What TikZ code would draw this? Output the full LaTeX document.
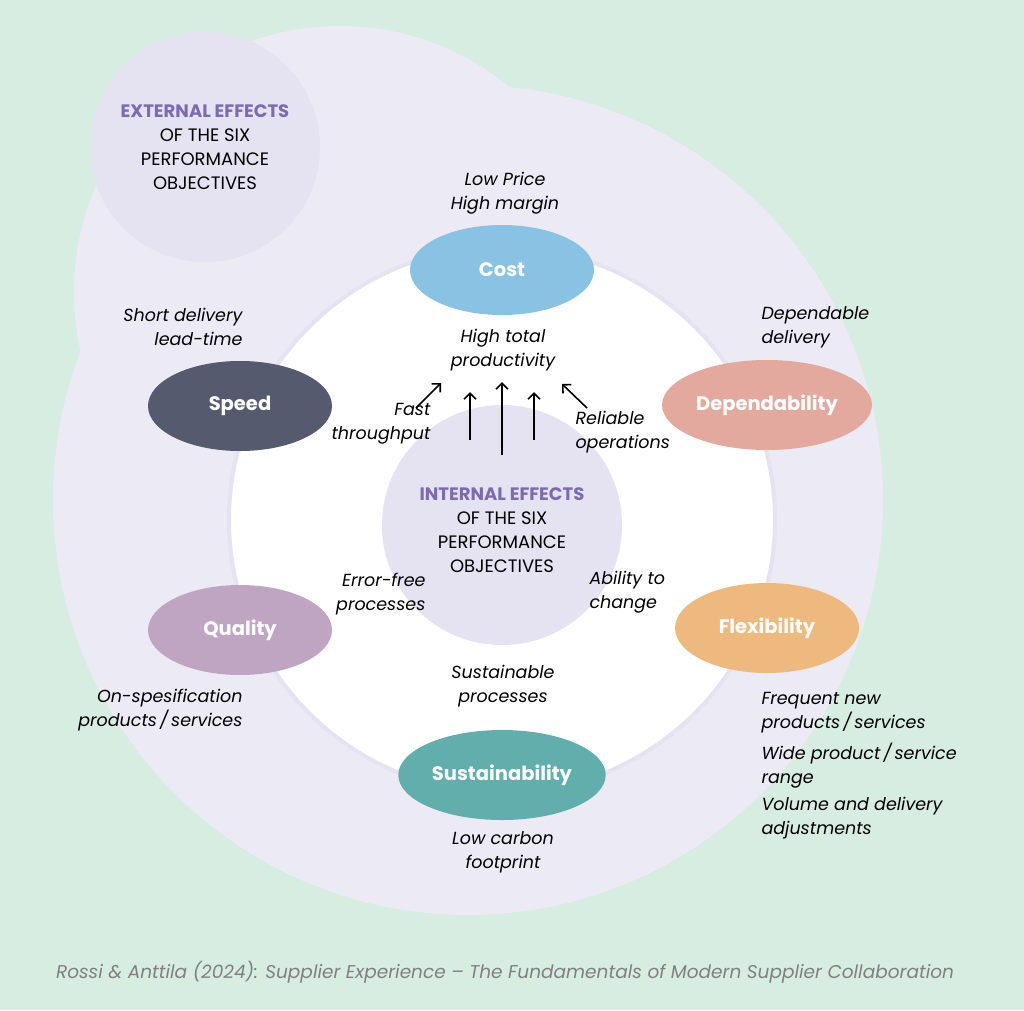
\documentclass[tikz,border=0pt]{standalone}
\usepackage{fontspec}
\setmainfont{Poppins}
\usetikzlibrary{shapes.geometric,arrows.meta}
\begin{document}
\begin{tikzpicture}[x=1pt,y=-1pt,
 obj/.style={ellipse,minimum width=184pt,minimum height=90pt,text=white,font=\fontsize{19.5}{22}\selectfont\bfseries},
 lab/.style={font=\fontsize{17.5}{24}\selectfont\itshape,text=black,align=center},
 arr/.style={-{Straight Barb[length=6pt,width=12pt]},line width=1.6pt},
 ctitle/.style={font=\fontsize{18}{24}\selectfont,align=center}]
\definecolor{bg}{HTML}{D7EDE1}
\definecolor{big}{HTML}{ECEAF4}
\definecolor{mid}{HTML}{E5E2F1}
\definecolor{purp}{HTML}{7C6BB0}
\fill[bg] (0,0) rectangle (1024,1010);
\useasboundingbox (0,0) rectangle (1024,1010);
\fill[big] (468,500) circle (415);
\fill[big] (340,292) circle (266);
\fill[white,draw=mid,line width=4pt] (502,520) circle (273);
\fill[mid] (205,147) circle (115);
\fill[mid] (502,525) circle (120);
\node[ctitle] (ext) at (205,147) {\textcolor{purp}{\bfseries EXTERNAL EFFECTS}\\OF THE SIX\\PERFORMANCE\\OBJECTIVES};
\node[ctitle] (int) at (502,530) {\textcolor{purp}{\bfseries INTERNAL EFFECTS}\\OF THE SIX\\PERFORMANCE\\OBJECTIVES};
\node[obj,fill={rgb,255:red,137;green,194;blue,227}] (cost) at (502,270) {Cost};
\node[obj,fill={rgb,255:red,86;green,90;blue,110}] (speed) at (240,406) {Speed};
\node[obj,fill={rgb,255:red,227;green,168;blue,158}] (dep) at (767,405) {Dependability};
\node[obj,fill={rgb,255:red,191;green,165;blue,194}] (qual) at (240,630) {Quality};
\node[obj,fill={rgb,255:red,238;green,185;blue,127}] (flex) at (767,628) {Flexibility};
\node[obj,fill={rgb,255:red,98;green,174;blue,173}] (sus) at (502,775) {Sustainability};
\node[lab] (l1) at (505,193) {Low Price\\High margin};
\node[lab,align=right,anchor=east] (l2) at (246,327) {Short delivery\\lead-time};
\node[lab,align=left,anchor=west] (l3) at (758,327) {Dependable\\delivery};
\node[lab] (l4) at (503,350) {High total\\productivity};
\node[lab,align=right,anchor=east] (l5) at (434,424) {Fast\\throughput};
\node[lab,align=left,anchor=west] (l6) at (572,432) {Reliable\\operations};
\node[lab,align=right,anchor=east] (l7) at (429,594) {Error-free\\processes};
\node[lab,align=left,anchor=west] (l8) at (586,592) {Ability to\\change};
\node[lab] (l9) at (503,686) {Sustainable\\processes};
\node[lab,align=right,anchor=east] (l10) at (246,710) {On-spesification\\products\,/\,services};
\node[lab,align=left,anchor=west] (l11) at (758,713) {Frequent new\\products\,/\,services};
\node[lab,align=left,anchor=west] (l12) at (758,766) {Wide product\,/\,service\\range};
\node[lab,align=left,anchor=west] (l13) at (758,818) {Volume and delivery\\adjustments};
\node[lab] (l14) at (503,852) {Low carbon\\footprint};
\node[font=\fontsize{18.5}{22}\selectfont\itshape,text=gray] (src) at (505,972) {Rossi \& Anttila (2024): Supplier Experience -- The Fundamentals of Modern Supplier Collaboration};
\coordinate (a1s) at (502,455); \coordinate (a1e) at (502,382);
\coordinate (a2s) at (470,440); \coordinate (a2e) at (470,392);
\coordinate (a3s) at (534,440); \coordinate (a3e) at (534,392);
\coordinate (a4s) at (416,408); \coordinate (a4e) at (441,383);
\coordinate (a5s) at (587,408); \coordinate (a5e) at (562,384);
\foreach \i in {1,...,5} \draw[arr] (a\i s) -- (a\i e);
\end{tikzpicture}
\end{document}
